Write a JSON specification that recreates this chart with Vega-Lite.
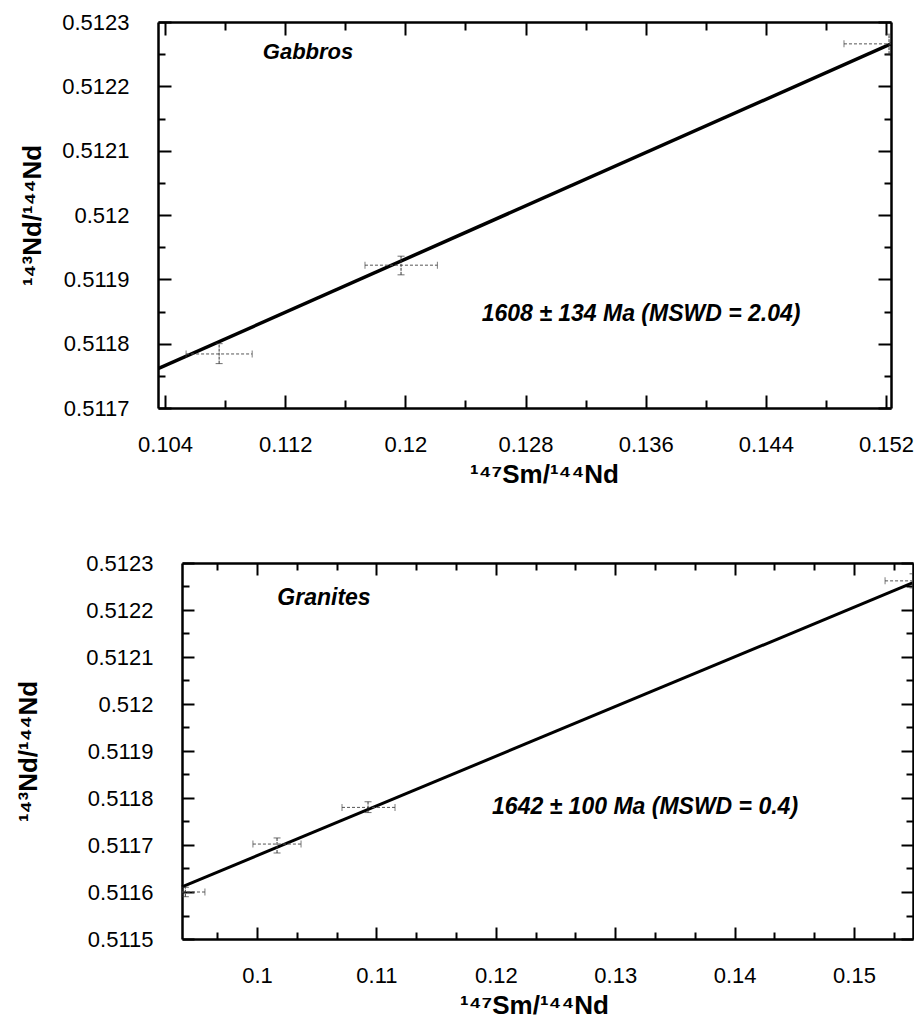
{
  "$schema": "https://vega.github.io/schema/vega-lite/v6.json",
  "background": "white",
  "padding": {"left": 15, "top": 11, "right": 0, "bottom": 0},
  "config": {
    "font": "Liberation Sans",
    "view": {"stroke": null},
    "axis": {
      "grid": false,
      "domainColor": "black",
      "domainWidth": 2.5,
      "tickColor": "black",
      "tickWidth": 2,
      "labelColor": "black",
      "labelFont": "Liberation Sans",
      "labelFontSize": 22,
      "titleColor": "black",
      "titleFont": "Liberation Sans",
      "titleFontSize": 26,
      "titleFontWeight": "bold"
    }
  },
  "datasets": {
    "gab": [
      {"x": 0.1076, "xlo": 0.1054, "xhi": 0.1098, "y": 0.511784, "ylo": 0.511769, "yhi": 0.5118},
      {"x": 0.11971, "xlo": 0.11731, "xhi": 0.12213, "y": 0.511922, "ylo": 0.511907, "yhi": 0.511936},
      {"x": 0.1522, "xlo": 0.1492, "xhi": 0.1552, "y": 0.512266, "ylo": 0.51225, "yhi": 0.512281}
    ],
    "gabLine": [
      {"x": 0.10353, "y": 0.511761},
      {"x": 0.15233, "y": 0.512266}
    ],
    "gra": [
      {"x": 0.094, "xlo": 0.0925, "xhi": 0.09564, "y": 0.5116, "ylo": 0.51159, "yhi": 0.51161},
      {"x": 0.10168, "xlo": 0.09966, "xhi": 0.10369, "y": 0.511702, "ylo": 0.511683, "yhi": 0.511715},
      {"x": 0.1093, "xlo": 0.10712, "xhi": 0.11156, "y": 0.51178, "ylo": 0.511769, "yhi": 0.511792},
      {"x": 0.1555, "xlo": 0.1526, "xhi": 0.1584, "y": 0.512262, "ylo": 0.512247, "yhi": 0.512277}
    ],
    "graLine": [
      {"x": 0.09372, "y": 0.511611},
      {"x": 0.15494, "y": 0.512258}
    ]
  },
  "spacing": 65,
  "vconcat": [
    {
      "width": 733,
      "height": 386,
      "resolve": {"axis": {"x": "independent", "y": "independent"}},
      "layer": [
        {
          "data": {"name": "gabLine"},
          "mark": {"type": "line", "color": "black", "strokeWidth": 3.5, "clip": true},
          "encoding": {
            "x": {"field": "x", "type": "quantitative",
              "scale": {"domain": [0.10353, 0.15233], "nice": false, "zero": false},
              "axis": {"orient": "bottom", "values": [0.104, 0.112, 0.12, 0.128, 0.136, 0.144, 0.152], "format": "~g", "tickSize": -13, "labelPadding": 39, "title": "¹⁴⁷Sm/¹⁴⁴Nd", "titleX": 386, "titlePadding": 6}},
            "y": {"field": "y", "type": "quantitative",
              "scale": {"domain": [0.5117, 0.5123], "nice": false, "zero": false},
              "axis": {"orient": "left", "values": [0.5117, 0.5118, 0.5119, 0.512, 0.5121, 0.5122, 0.5123], "format": "~g", "tickSize": -13, "labelPadding": 42, "title": "¹⁴³Nd/¹⁴⁴Nd", "titlePadding": 16}}
          }
        },
        {
          "data": {"name": "gab"},
          "mark": {"type": "rule", "color": "#555", "strokeWidth": 1, "strokeDash": [3, 2], "clip": true},
          "encoding": {
            "x": {"field": "xlo", "type": "quantitative",
              "scale": {"domain": [0.10353, 0.15233], "nice": false, "zero": false},
              "axis": {"orient": "bottom", "values": [0.108, 0.116, 0.124, 0.132, 0.14, 0.148], "tickSize": -8, "labels": false, "domain": false, "title": null}},
            "x2": {"field": "xhi"},
            "y": {"field": "y", "type": "quantitative",
              "scale": {"domain": [0.5117, 0.5123], "nice": false, "zero": false},
              "axis": {"orient": "left", "values": [0.51175, 0.51185, 0.51195, 0.51205, 0.51215, 0.51225], "tickSize": -7, "labels": false, "domain": false, "title": null}}
          }
        },
        {
          "data": {"name": "gab"},
          "mark": {"type": "rule", "color": "#333", "strokeWidth": 1, "strokeDash": [3, 1], "clip": true},
          "encoding": {
            "x": {"field": "x", "type": "quantitative",
              "scale": {"domain": [0.10353, 0.15233], "nice": false, "zero": false},
              "axis": {"orient": "top", "values": [0.104, 0.112, 0.12, 0.128, 0.136, 0.144, 0.152], "tickSize": -13, "labels": false, "title": null}},
            "y": {"field": "ylo", "type": "quantitative",
              "scale": {"domain": [0.5117, 0.5123], "nice": false, "zero": false},
              "axis": {"orient": "right", "values": [0.5117, 0.5118, 0.5119, 0.512, 0.5121, 0.5122, 0.5123], "tickSize": -13, "labels": false, "title": null}},
            "y2": {"field": "yhi"}
          }
        },
        {
          "data": {"name": "gab"},
          "transform": [{"fold": ["xlo", "xhi"], "as": ["end", "xv"]}],
          "mark": {"type": "tick", "orient": "vertical", "color": "#444", "size": 7, "thickness": 1, "clip": true},
          "encoding": {
            "x": {"field": "xv", "type": "quantitative",
              "scale": {"domain": [0.10353, 0.15233], "nice": false, "zero": false},
              "axis": {"orient": "top", "values": [0.108, 0.116, 0.124, 0.132, 0.14, 0.148], "tickSize": -8, "labels": false, "domain": false, "title": null}},
            "y": {"field": "y", "type": "quantitative",
              "scale": {"domain": [0.5117, 0.5123], "nice": false, "zero": false},
              "axis": {"orient": "right", "values": [0.51175, 0.51185, 0.51195, 0.51205, 0.51215, 0.51225], "tickSize": -7, "labels": false, "domain": false, "title": null}}
          }
        },
        {
          "data": {"name": "gab"},
          "transform": [{"fold": ["ylo", "yhi"], "as": ["end", "yv"]}],
          "mark": {"type": "tick", "orient": "horizontal", "color": "#333", "size": 7, "thickness": 1, "clip": true},
          "encoding": {
            "x": {"field": "x", "type": "quantitative",
              "scale": {"domain": [0.10353, 0.15233], "nice": false, "zero": false}, "axis": null},
            "y": {"field": "yv", "type": "quantitative",
              "scale": {"domain": [0.5117, 0.5123], "nice": false, "zero": false}, "axis": null}
          }
        },
        {
          "data": {"values": [{"x": 0.11352, "y": 0.512253, "label": "Gabbros"}]},
          "mark": {"type": "text", "font": "Liberation Sans", "fontSize": 22, "fontWeight": "bold", "fontStyle": "italic", "align": "center", "baseline": "middle", "color": "black"},
          "encoding": {
            "x": {"field": "x", "type": "quantitative",
              "scale": {"domain": [0.10353, 0.15233], "nice": false, "zero": false}, "axis": null},
            "y": {"field": "y", "type": "quantitative",
              "scale": {"domain": [0.5117, 0.5123], "nice": false, "zero": false}, "axis": null},
            "text": {"field": "label"}
          }
        },
        {
          "data": {"values": [{"x": 0.13569, "y": 0.511846, "label": "1608 ± 134 Ma (MSWD = 2.04)"}]},
          "mark": {"type": "text", "font": "Liberation Sans", "fontSize": 23, "fontWeight": "bold", "fontStyle": "italic", "align": "center", "baseline": "middle", "color": "black"},
          "encoding": {
            "x": {"field": "x", "type": "quantitative",
              "scale": {"domain": [0.10353, 0.15233], "nice": false, "zero": false}, "axis": null},
            "y": {"field": "y", "type": "quantitative",
              "scale": {"domain": [0.5117, 0.5123], "nice": false, "zero": false}, "axis": null},
            "text": {"field": "label"}
          }
        }
      ]
    },
    {
      "width": 755,
      "height": 376,
      "resolve": {"axis": {"x": "independent", "y": "independent"}},
      "layer": [
        {
          "data": {"name": "graLine"},
          "mark": {"type": "line", "color": "black", "strokeWidth": 3, "clip": true},
          "encoding": {
            "x": {"field": "x", "type": "quantitative",
              "scale": {"domain": [0.09372, 0.15494], "range": [24, 755], "clamp": true, "nice": false, "zero": false},
              "axis": {"orient": "bottom", "values": [0.1, 0.11, 0.12, 0.13, 0.14, 0.15], "format": "~g", "tickSize": -12, "labelPadding": 38, "title": "¹⁴⁷Sm/¹⁴⁴Nd", "titleX": 376, "titlePadding": 6}},
            "y": {"field": "y", "type": "quantitative",
              "scale": {"domain": [0.5115, 0.5123], "nice": false, "zero": false},
              "axis": {"orient": "left", "offset": -24, "values": [0.5115, 0.5116, 0.5117, 0.5118, 0.5119, 0.512, 0.5121, 0.5122, 0.5123], "format": "~g", "tickSize": -12, "labelPadding": 41, "title": "¹⁴³Nd/¹⁴⁴Nd", "titlePadding": 44}}
          }
        },
        {
          "data": {"name": "gra"},
          "mark": {"type": "rule", "color": "#555", "strokeWidth": 1, "strokeDash": [3, 2], "clip": true},
          "encoding": {
            "x": {"field": "xlo", "type": "quantitative",
              "scale": {"domain": [0.09372, 0.15494], "range": [24, 755], "clamp": true, "nice": false, "zero": false},
              "axis": {"orient": "bottom", "values": [0.09667, 0.10333, 0.10667, 0.11333, 0.11667, 0.12333, 0.12667, 0.13333, 0.13667, 0.14333, 0.14667, 0.15333], "tickSize": -7, "labels": false, "domain": false, "title": null}},
            "x2": {"field": "xhi"},
            "y": {"field": "y", "type": "quantitative",
              "scale": {"domain": [0.5115, 0.5123], "nice": false, "zero": false},
              "axis": {"orient": "left", "offset": -24, "values": [0.51155, 0.51165, 0.51175, 0.51185, 0.51195, 0.51205, 0.51215, 0.51225], "tickSize": -7, "labels": false, "domain": false, "title": null}}
          }
        },
        {
          "data": {"name": "gra"},
          "mark": {"type": "rule", "color": "#333", "strokeWidth": 1, "strokeDash": [3, 1], "clip": true},
          "encoding": {
            "x": {"field": "x", "type": "quantitative",
              "scale": {"domain": [0.09372, 0.15494], "range": [24, 755], "clamp": true, "nice": false, "zero": false},
              "axis": {"orient": "top", "values": [0.1, 0.11, 0.12, 0.13, 0.14, 0.15], "tickSize": -12, "labels": false, "title": null}},
            "y": {"field": "ylo", "type": "quantitative",
              "scale": {"domain": [0.5115, 0.5123], "nice": false, "zero": false},
              "axis": {"orient": "right", "values": [0.5115, 0.5116, 0.5117, 0.5118, 0.5119, 0.512, 0.5121, 0.5122, 0.5123], "tickSize": -12, "labels": false, "title": null}},
            "y2": {"field": "yhi"}
          }
        },
        {
          "data": {"name": "gra"},
          "transform": [{"fold": ["xlo", "xhi"], "as": ["end", "xv"]}],
          "mark": {"type": "tick", "orient": "vertical", "color": "#444", "size": 7, "thickness": 1, "clip": true},
          "encoding": {
            "x": {"field": "xv", "type": "quantitative",
              "scale": {"domain": [0.09372, 0.15494], "range": [24, 755], "clamp": true, "nice": false, "zero": false},
              "axis": {"orient": "top", "values": [0.09667, 0.10333, 0.10667, 0.11333, 0.11667, 0.12333, 0.12667, 0.13333, 0.13667, 0.14333, 0.14667, 0.15333], "tickSize": -7, "labels": false, "domain": false, "title": null}},
            "y": {"field": "y", "type": "quantitative",
              "scale": {"domain": [0.5115, 0.5123], "nice": false, "zero": false},
              "axis": {"orient": "right", "values": [0.51155, 0.51165, 0.51175, 0.51185, 0.51195, 0.51205, 0.51215, 0.51225], "tickSize": -7, "labels": false, "domain": false, "title": null}}
          }
        },
        {
          "data": {"name": "gra"},
          "transform": [{"fold": ["ylo", "yhi"], "as": ["end", "yv"]}],
          "mark": {"type": "tick", "orient": "horizontal", "color": "#333", "size": 7, "thickness": 1, "clip": true},
          "encoding": {
            "x": {"field": "x", "type": "quantitative",
              "scale": {"domain": [0.09372, 0.15494], "range": [24, 755], "clamp": true, "nice": false, "zero": false}, "axis": null},
            "y": {"field": "yv", "type": "quantitative",
              "scale": {"domain": [0.5115, 0.5123], "nice": false, "zero": false}, "axis": null}
          }
        },
        {
          "data": {"values": [{"x": 0.10561, "y": 0.512226, "label": "Granites"}]},
          "mark": {"type": "text", "font": "Liberation Sans", "fontSize": 23, "fontWeight": "bold", "fontStyle": "italic", "align": "center", "baseline": "middle", "color": "black"},
          "encoding": {
            "x": {"field": "x", "type": "quantitative",
              "scale": {"domain": [0.09372, 0.15494], "range": [24, 755], "clamp": true, "nice": false, "zero": false}, "axis": null},
            "y": {"field": "y", "type": "quantitative",
              "scale": {"domain": [0.5115, 0.5123], "nice": false, "zero": false}, "axis": null},
            "text": {"field": "label"}
          }
        },
        {
          "data": {"values": [{"x": 0.1325, "y": 0.51178, "label": "1642 ± 100 Ma (MSWD = 0.4)"}]},
          "mark": {"type": "text", "font": "Liberation Sans", "fontSize": 23, "fontWeight": "bold", "fontStyle": "italic", "align": "center", "baseline": "middle", "color": "black"},
          "encoding": {
            "x": {"field": "x", "type": "quantitative",
              "scale": {"domain": [0.09372, 0.15494], "range": [24, 755], "clamp": true, "nice": false, "zero": false}, "axis": null},
            "y": {"field": "y", "type": "quantitative",
              "scale": {"domain": [0.5115, 0.5123], "nice": false, "zero": false}, "axis": null},
            "text": {"field": "label"}
          }
        }
      ]
    }
  ]
}
